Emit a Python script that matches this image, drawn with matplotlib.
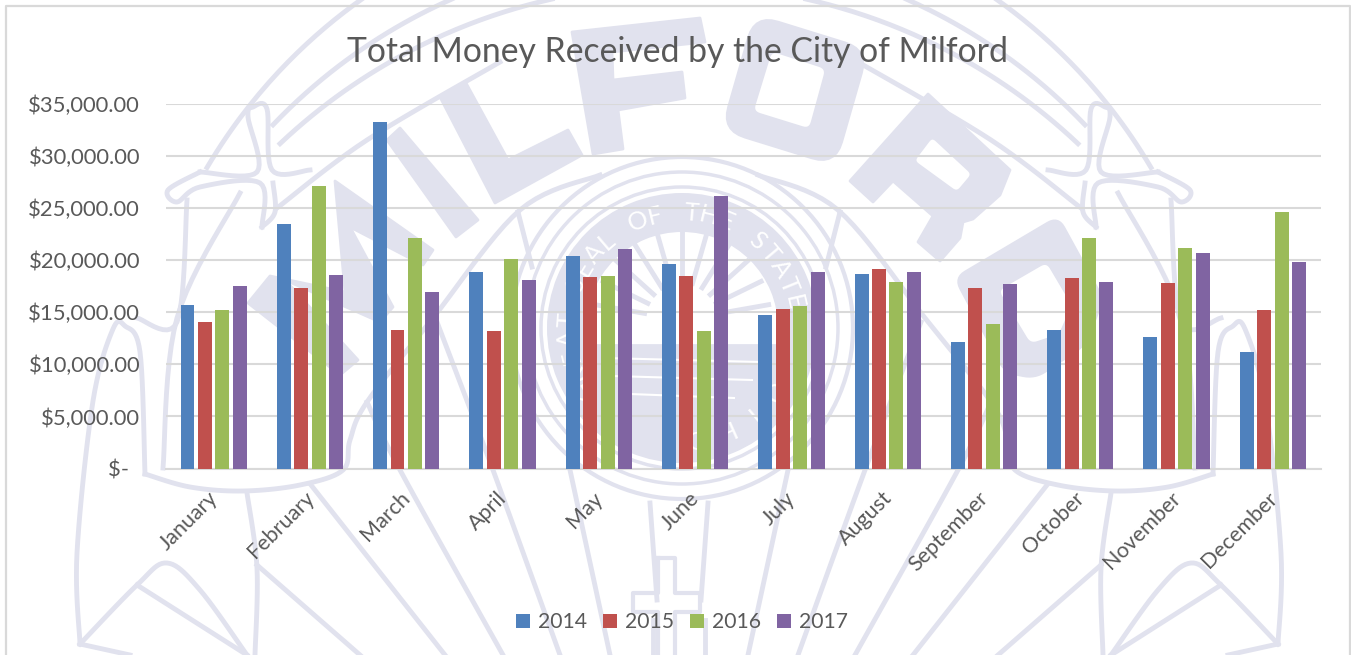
import matplotlib
matplotlib.use('Agg')
import matplotlib.pyplot as plt
import matplotlib.patches as patches
from matplotlib.path import Path
from matplotlib.transforms import ScaledTranslation
import numpy as np

plt.rcParams['font.family'] = ['Lato', 'DejaVu Sans']

months = ['January', 'February', 'March', 'April', 'May', 'June', 'July',
          'August', 'September', 'October', 'November', 'December']
years = ['2014', '2015', '2016', '2017']
values_2014 = [15700, 23500, 33300, 18900, 20400, 19600, 14700, 18700, 12100, 13300, 12600, 11200]
values_2015 = [14100, 17300, 13300, 13250, 18400, 18500, 15300, 19200, 17300, 18300, 17800, 15200]
values_2016 = [15200, 27100, 22100, 20100, 18500, 13200, 15600, 17900, 13900, 22100, 21200, 24600]
values_2017 = [17500, 18600, 16900, 18100, 21100, 26200, 18900, 18900, 17700, 17900, 20700, 19800]
y_ticks = [0, 5000, 10000, 15000, 20000, 25000, 30000, 35000]
y_labels = ['$-  ', '$5,000.00', '$10,000.00', '$15,000.00', '$20,000.00',
            '$25,000.00', '$30,000.00', '$35,000.00']
colors = ['#4f81bd', '#c0504d', '#9bbb59', '#8064a2']

W = 1351
H = 655
TEXT = '#595959'
GRID = '#d9d9d9'
MARK = '#e1e2ee'
MID = 679  # the seal is mirrored around this x


def _rounded(pts, d):
    # cut every corner of a closed polygon with a small curve
    p = np.array(pts, dtype=float)
    out = []
    for i in range(0, len(p)):
        a = p[i - 1]
        b = p[i]
        c = p[(i + 1) % len(p)]
        s = b + (a - b) * min(d / np.linalg.norm(a - b), 0.5)
        e = b + (c - b) * min(d / np.linalg.norm(c - b), 0.5)
        for t in np.linspace(0, 1, 8):
            out.append((1 - t) ** 2 * s + 2 * t * (1 - t) * b + t ** 2 * e)
    return [tuple(q) for q in out]


def _poly(bg, outer, hole=None):
    verts = list(outer) + [outer[0]]
    codes = [Path.MOVETO] + [Path.LINETO] * (len(outer) - 1) + [Path.CLOSEPOLY]
    if hole is not None:
        verts += list(hole) + [hole[0]]
        codes += [Path.MOVETO] + [Path.LINETO] * (len(hole) - 1) + [Path.CLOSEPOLY]
    bg.add_patch(patches.PathPatch(Path(verts, codes), fc=MARK, ec=MARK, lw=2, joinstyle='round'))


def _smooth(pts):
    # catmull-rom through the points, just to round the rope shapes
    p = np.array([pts[0]] + list(pts) + [pts[-1]], dtype=float)
    out = []
    for i in range(1, len(p) - 2):
        for t in np.linspace(0, 1, 12):
            out.append(0.5 * (2 * p[i] + (p[i + 1] - p[i - 1]) * t
                              + (2 * p[i - 1] - 5 * p[i] + 4 * p[i + 1] - p[i + 2]) * t ** 2
                              + (3 * p[i] - p[i - 1] - 3 * p[i + 1] + p[i + 2]) * t ** 3))
    return np.array(out)


def _draw_watermark(fig):
    # seal behind the chart, drawn in pixel coordinates
    bg = fig.add_axes([0, 0, 1, 1], zorder=0)
    bg.set_xlim(0, W)
    bg.set_ylim(H, 0)
    bg.axis('off')

    # big arcs over the top
    for x0, cy, r in [(207, 446, 548), (273, 512, 561), (280, 566, 581)]:
        xs = np.linspace(x0, 2 * MID - x0, 200)
        bg.plot(xs, cy - np.sqrt(r ** 2 - (xs - MID) ** 2), color=MARK, lw=3.5)

    # left half of the ropes and rays, the right half is the mirror image
    curves = [
        [(80, 644), (77, 553), (93, 401), (113, 329), (125, 326), (140, 352), (145, 474)],
        [(145, 474), (190, 487), (243, 491), (300, 485), (343, 470), (350, 440), (367, 402),
         (433, 318), (520, 210), (600, 175)],
        [(137, 318), (177, 322), (187, 200)],
        [(163, 468), (177, 318), (240, 193)],
        [(200, 172), (168, 190), (177, 202), (200, 187), (260, 183), (262, 227)],
        [(200, 172), (257, 172), (248, 117), (253, 107), (267, 109), (272, 170), (310, 170)],
        [(273, 183), (275, 212), (262, 227)],
        [(277, 208), (367, 140), (500, 62)],
        [(247, 493), (257, 568), (255, 655)],
        [(80, 644), (137, 585), (167, 563), (200, 590), (247, 655)],
        [(137, 585), (247, 655)],
        [(80, 644), (130, 655)],
        [(367, 402), (400, 470), (503, 655)],
        [(437, 322), (493, 470), (560, 655)],
        [(570, 470), (610, 655)],
        [(311, 485), (445, 655)],
        [(257, 565), (360, 655)],
        [(518, 212), (532, 267)],
        [(650, 503), (657, 600)],
        [(653, 620), (653, 655)],
    ]
    for pts in curves:
        c = _smooth(pts)
        bg.plot(c[:, 0], c[:, 1], color=MARK, lw=3.5)
        bg.plot(2 * MID - c[:, 0], c[:, 1], color=MARK, lw=3.5)

    # big letters
    _poly(bg, [(335, 181), (433, 250), (423, 265), (350, 227), (393, 307), (380, 322), (285, 280),
               (358, 360), (340, 375), (248, 303), (270, 276), (345, 292)])
    _poly(bg, [(400, 128), (478, 220), (456, 237), (387, 140)])
    _poly(bg, [(440, 97), (466, 83), (508, 160), (568, 130), (582, 155), (495, 203)])
    _poly(bg, [(572, 32), (700, 18), (705, 42), (612, 52), (613, 80), (682, 72), (685, 98),
               (618, 110), (623, 149), (593, 154)])
    _poly(bg, _rounded([(755, 15), (868, 50), (835, 165), (722, 130)], 24),
          _rounded([(771, 50), (752, 112), (810, 130), (827, 68)], 8))
    _poly(bg, [(928, 94), (1010, 170), (1000, 195), (973, 219), (963, 222), (960, 238), (940, 261),
               (918, 242), (933, 216), (893, 181), (873, 202), (850, 181)],
          _rounded([(932, 136), (913, 161), (957, 193), (973, 174)], 6))
    _poly(bg, _rounded([(1058, 217), (1103, 299), (1085, 345), (1035, 378), (1005, 372), (955, 278)], 12),
          _rounded([(1047, 261), (997, 290), (1030, 345), (1060, 335), (1073, 305)], 8))

    # the seal itself
    cx, cy = 682, 328
    for r, lw in [(171, 3), (156, 2.5), (141, 2.5)]:
        bg.add_patch(patches.Circle((cx, cy), r, fill=False, ec=MARK, lw=lw))
    bg.add_patch(patches.Wedge((cx, cy), 135, 0, 360, width=39, fc=MARK, ec='none'))
    seal = 'GREAT SEAL OF THE STATE'
    for i, ch in enumerate(seal):
        a = np.radians(-122 + 199 * i / (len(seal) - 1))
        bg.text(cx + 115 * np.sin(a), cy - 115 * np.cos(a), ch, color='white', fontsize=18,
                rotation=-np.degrees(a), ha='center', va='center')
    for i, ch in enumerate('OHIO'):
        a = np.radians(172 - 16 * i)
        bg.text(cx + 115 * np.sin(a), cy - 115 * np.cos(a), ch, color='white', fontsize=18,
                rotation=180 - np.degrees(a), ha='center', va='center')

    # sun rays and the hills in the middle
    for d in range(-80, 81, 16):
        a = np.radians(d)
        bg.plot([cx + 38 * np.sin(a), cx + 88 * np.sin(a)],
                [cy - 8 - 38 * np.cos(a), cy - 8 - 88 * np.cos(a)], color=MARK, lw=3.5)
    t = np.radians(np.linspace(-80, 80, 60))
    bg.fill(cx + 97 * np.sin(t), cy + 97 * np.cos(t), color=MARK)
    for dy, half in [(30, 78), (48, 70), (66, 52)]:
        bg.plot([cx - half, cx + half], [cy + dy, cy + dy + 4], color='white', lw=1.5)

    # cross at the bottom
    bg.plot([658, 675, 675, 700, 700, 675, 675], [558, 558, 593, 593, 612, 612, 655], color=MARK, lw=3)
    bg.plot([658, 658, 633, 633, 658, 658], [558, 593, 593, 612, 612, 655], color=MARK, lw=3)

    # chart frame
    bg.plot([6, 6, 1350, 1350], [H, 6, 6, H], color=GRID, lw=1.6)


def main():
    fig = plt.figure(figsize=(W / 100, H / 100), dpi=100, facecolor='white')
    _draw_watermark(fig)

    ax = fig.add_axes([165.5 / W, 1 - 468.5 / H, (1321 - 165.5) / W, (468.5 - 104) / H], zorder=1)
    ax.patch.set_alpha(0)

    series = [values_2014, values_2015, values_2016, values_2017]
    x = np.arange(len(months))
    for i in range(0, len(series)):
        ax.bar(x + (i - 1.5) * 0.181, series[i], width=0.145, color=colors[i],
               label=years[i], zorder=3)

    ax.set_xlim(-0.5, 11.5)
    ax.set_ylim(0, 35000)
    ax.set_yticks(y_ticks)
    ax.set_yticklabels(y_labels, fontsize=15.8, color=TEXT)
    ax.set_xticks(x)
    ax.set_xticklabels(months, fontsize=15.5, color=TEXT, rotation=45, ha='right',
                       rotation_mode='anchor')
    ax.tick_params(axis='y', length=0, pad=18.3)
    ax.tick_params(axis='x', length=0, pad=14)
    # tick_params resets the label transforms, so shift after it
    shift = ScaledTranslation(-6 / 100, 0, fig.dpi_scale_trans)
    for label in ax.get_xticklabels():
        label.set_transform(label.get_transform() + shift)
    ax.grid(axis='y', color=GRID, lw=1.5, zorder=1)
    ax.set_axisbelow(True)
    for name in ['top', 'right', 'left']:
        ax.spines[name].set_visible(False)
    ax.spines['bottom'].set_color(GRID)
    ax.spines['bottom'].set_linewidth(1.5)

    fig.text(677.5 / W, 1 - 52 / H, 'Total Money Received by the City of Milford',
             fontsize=24.3, color=TEXT, ha='center', va='center')

    leg = fig.legend(loc='center', bbox_to_anchor=(682 / W, 1 - 622 / H), ncol=4, frameon=False,
                     fontsize=15.2, handlelength=0.65, handleheight=0.65, handletextpad=0.4,
                     columnspacing=0.75, labelcolor=TEXT)
    leg.set_zorder(2)

    fig.savefig('out.png', dpi=100)


if __name__ == '__main__':
    main()
